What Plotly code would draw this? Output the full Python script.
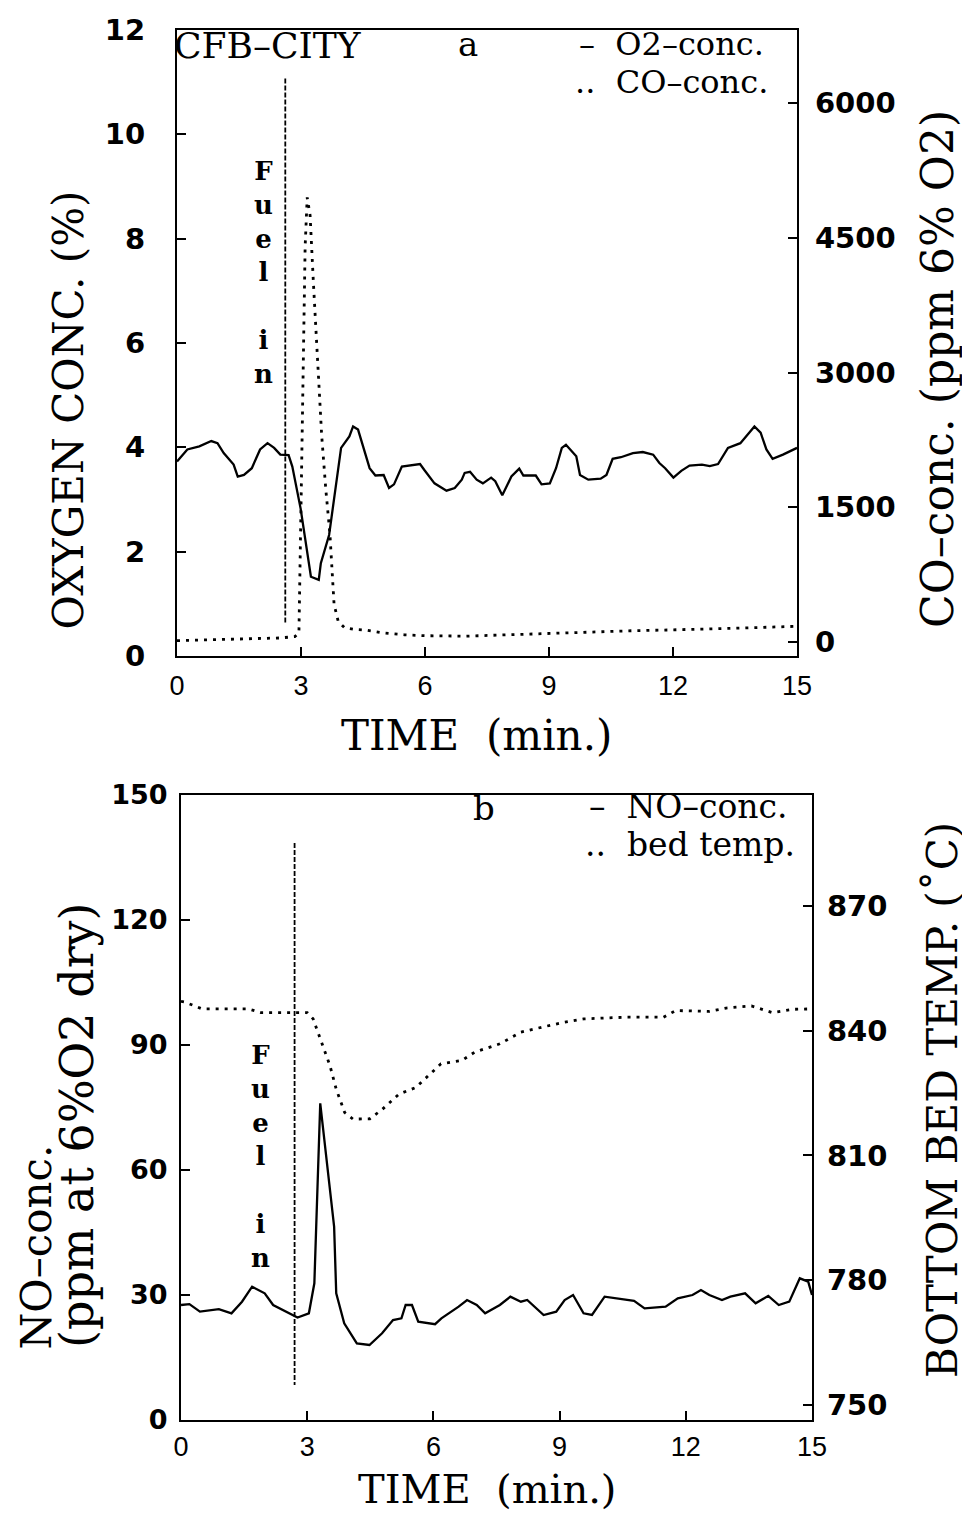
import plotly.graph_objects as go

W, H = 970, 1517          # target picture size
OX, OY = 8, 8             # page body margin of the browser
FW, FH = W - OX, H - OY   # figure size that fits in the window

# ---------------- data: panel a ----------------
o2_time = [0, 0.25, 0.54, 0.83, 0.98, 1.13, 1.37, 1.47, 1.62, 1.81, 2.01, 2.19, 2.35, 2.5, 2.7, 2.79,
           2.99, 3.24, 3.43, 3.48, 3.68, 3.97, 4.17, 4.26, 4.38, 4.66, 4.8, 5.0, 5.13, 5.25, 5.44, 5.88,
           5.98, 6.23, 6.52, 6.72, 6.89, 6.96, 7.09, 7.25, 7.4, 7.6, 7.7, 7.87, 8.09, 8.28, 8.38, 8.68,
           8.82, 9.02, 9.17, 9.31, 9.41, 9.66, 9.75, 9.95, 10.25, 10.39, 10.54, 10.74, 11.03, 11.27,
           11.52, 11.67, 11.81, 12.01, 12.2, 12.4, 12.7, 12.89, 13.09, 13.33, 13.63, 13.97, 14.12,
           14.26, 14.41, 14.66, 15.0]
o2_conc = [3.73, 3.96, 4.02, 4.12, 4.08, 3.89, 3.67, 3.44, 3.47, 3.60, 3.96, 4.08, 3.99, 3.86, 3.85, 3.63,
           2.83, 1.52, 1.46, 1.78, 2.32, 3.99, 4.21, 4.40, 4.34, 3.60, 3.46, 3.47, 3.22, 3.29, 3.63, 3.68,
           3.57, 3.31, 3.17, 3.22, 3.38, 3.51, 3.53, 3.38, 3.31, 3.42, 3.35, 3.08, 3.44, 3.59, 3.46, 3.46,
           3.29, 3.31, 3.60, 3.99, 4.05, 3.83, 3.47, 3.38, 3.40, 3.47, 3.78, 3.81, 3.89, 3.91,
           3.86, 3.70, 3.60, 3.42, 3.55, 3.65, 3.67, 3.64, 3.68, 3.99, 4.08, 4.40, 4.28,
           3.96, 3.78, 3.86, 3.99]

co_time = [0, 0.5, 1.0, 1.5, 2.0, 2.5, 2.85, 2.95, 3.0, 3.05, 3.1, 3.15, 3.22, 3.3, 3.4, 3.5, 3.6, 3.7,
           3.8, 3.9, 4.05, 4.3, 4.6, 5.0, 5.5, 6.0, 7.0, 8.0, 9.0, 10.0, 11.0, 12.0, 13.0, 14.0, 15.0]
co_conc = [15, 20, 25, 30, 35, 45, 60, 100, 1500, 3000, 4400, 4950, 4750, 4000, 3100, 2300, 1700, 1200,
           420, 230, 160, 140, 130, 100, 80, 70, 65, 80, 100, 115, 125, 135, 145, 160, 175]

fuel_a_time = [2.62, 2.62]
fuel_a_o2 = [11.07, 0.63]

# ---------------- data: panel b ----------------
no_time = [0, 0.2, 0.45, 0.9, 1.2, 1.45, 1.69, 1.99, 2.19, 2.49, 2.77, 3.04, 3.17, 3.31, 3.44, 3.64,
           3.69, 3.88, 4.18, 4.48, 4.78, 5.04, 5.24, 5.34, 5.49, 5.64, 6.04, 6.19, 6.6, 6.8, 7.03, 7.23,
           7.58, 7.83, 8.08, 8.23, 8.62, 8.92, 9.12, 9.32, 9.57, 9.77, 10.07, 10.32, 10.77, 11.02, 11.52,
           11.81, 12.16, 12.36, 12.56, 12.86, 13.06, 13.41, 13.66, 13.96, 14.21, 14.46, 14.71, 14.91, 15.0]
no_conc = [27.6, 27.8, 26, 26.6, 25.6, 28.4, 32, 30.4, 27.6, 26, 24.6, 25.6, 32.8, 76, 64.8, 46.4,
           30.4, 23.2, 18.4, 18, 20.8, 24, 24.4, 27.6, 27.6, 23.6, 23, 24.4, 27.2, 28.8, 27.6, 25.6,
           27.6, 29.6, 28.4, 28.8, 25.2, 26, 28.8, 30, 25.6, 25.2, 29.6, 29.2, 28.6, 26.8, 27.2,
           29.2, 30, 31.2, 30, 28.8, 29.6, 30.4, 28, 29.8, 27.6, 28.4, 34, 33.2, 30]

bed_time = [0, 0.1, 0.5, 1.6, 1.9, 2.6, 3.0, 3.14, 3.34, 3.54, 3.69, 3.89, 4.09, 4.49, 4.79, 5.18, 5.58,
            5.88, 6.18, 6.68, 6.98, 7.58, 8.08, 8.58, 9.07, 9.57, 10.57, 11.47, 11.76, 12.56, 12.96,
            13.56, 14.06, 14.56, 15.0]
bed_temp = [847, 846.8, 845.2, 845.2, 844.3, 844.3, 844.3, 842.8, 837.2, 831.6, 825.9, 820.3, 818.7,
            818.8, 821.1, 824.7, 826.3, 829.1, 832, 832.8, 834.8, 836.8, 839.6, 840.8, 841.9, 842.8,
            843.2, 843.2, 844.8, 844.6, 845.4, 845.9, 844.3, 845.1, 845.2]

fuel_b_time = [2.7, 2.7]
fuel_b_no = [138.5, 8.4]

time_ticks = [0, 3, 6, 9, 12, 15]
o2_ticks = [0, 2, 4, 6, 8, 10, 12]
co_ticks = [0, 1500, 3000, 4500, 6000]
no_ticks = [0, 30, 60, 90, 120, 150]
temp_ticks = [750, 780, 810, 840, 870]
temp_top_label = 900
fuel_text = "F<br>u<br>e<br>l<br> <br>i<br>n"


def px(x):
    return (x - OX) / FW


def py(y):
    return 1 - (y - OY) / FH


BLACK = "black"
SERIF = "DejaVu Serif"
TICKY = dict(family="DejaVu Sans", size=29, color=BLACK, weight="bold")
TICKY_B = dict(family="DejaVu Sans", size=27, color=BLACK, weight="bold")
TICKX = dict(family="Liberation Sans", size=27, color=BLACK)
DOT = "3px,6px"
DASH = "5px,2px"

fig = go.Figure()

# panel a
fig.add_trace(go.Scatter(x=o2_time, y=o2_conc, mode="lines", line=dict(color=BLACK, width=2.3),
                         xaxis="x", yaxis="y", showlegend=False))
fig.add_trace(go.Scatter(x=fuel_a_time, y=fuel_a_o2, mode="lines",
                         line=dict(color=BLACK, width=1.8, dash=DASH),
                         xaxis="x", yaxis="y", showlegend=False))
fig.add_trace(go.Scatter(x=co_time, y=co_conc, mode="lines", line=dict(color=BLACK, width=2.8, dash=DOT),
                         xaxis="x", yaxis="y2", showlegend=False))

# panel b
fig.add_trace(go.Scatter(x=no_time, y=no_conc, mode="lines", line=dict(color=BLACK, width=2.3),
                         xaxis="x2", yaxis="y3", showlegend=False))
fig.add_trace(go.Scatter(x=fuel_b_time, y=fuel_b_no, mode="lines",
                         line=dict(color=BLACK, width=1.8, dash=DASH),
                         xaxis="x2", yaxis="y3", showlegend=False))
fig.add_trace(go.Scatter(x=bed_time, y=bed_temp, mode="lines", line=dict(color=BLACK, width=2.8, dash=DOT),
                         xaxis="x2", yaxis="y4", showlegend=False))

axis_common = dict(showline=True, linecolor=BLACK, linewidth=2.2, ticks="inside", ticklen=9,
                   tickwidth=2, tickcolor=BLACK, showgrid=False, zeroline=False, automargin=False)

fig.update_layout(
    width=FW, height=FH,
    margin=dict(l=0, r=0, t=0, b=0),
    paper_bgcolor="white", plot_bgcolor="white",
    xaxis=dict(domain=[px(177), px(797)], anchor="y", range=[0, 15], tickvals=time_ticks,
               tickfont=TICKX, mirror=True, ticklabelstandoff=4, **axis_common),
    yaxis=dict(domain=[py(656), py(30)], anchor="x", range=[0, 12], tickvals=o2_ticks,
               tickfont=TICKY, ticklabelstandoff=24, **axis_common),
    yaxis2=dict(overlaying="y", anchor="x", side="right", range=[-156, 6813], tickvals=co_ticks,
                tickfont=TICKY, ticklabelstandoff=10, **axis_common),
    xaxis2=dict(domain=[px(181), px(812)], anchor="y3", range=[0, 15], tickvals=time_ticks,
                tickfont=TICKX, mirror=True, ticklabelstandoff=1, **axis_common),
    yaxis3=dict(domain=[py(1420), py(795)], anchor="x2", range=[0, 150], tickvals=no_ticks,
                tickfont=TICKY_B, ticklabelstandoff=6, **axis_common),
    yaxis4=dict(overlaying="y3", anchor="x2", side="right", range=[746.4, 896.6], tickvals=temp_ticks,
                tickfont=TICKY, ticklabelstandoff=7, **axis_common),
)


def ann(text, x, y, size, family=SERIF, xanchor="center", yanchor="middle", angle=0, weight="normal"):
    fig.add_annotation(text=text, x=px(x), y=py(y), xref="paper", yref="paper", showarrow=False,
                       xanchor=xanchor, yanchor=yanchor, textangle=angle,
                       font=dict(family=family, size=size, color=BLACK, weight=weight))


# top panel texts
ann("CFB\u2013CITY", 268, 46, 36)
ann("a", 468, 44, 34)
ann("\u2013  O2\u2013conc.", 766, 44, 32, xanchor="right")
ann("..  CO\u2013conc.", 770, 82, 32, xanchor="right")
ann(fuel_text, 263, 272, 26, weight="bold")
ann("OXYGEN CONC. (%)", 68, 632, 42, yanchor="bottom", angle=-90)
ann("CO\u2013conc. (ppm 6% O2)", 938, 630, 44, yanchor="bottom", angle=-90)
ann("TIME  (min.)", 476, 735, 42)

# bottom panel texts
ann("b", 484, 808, 34)
ann("\u2013  NO\u2013conc.", 789, 806, 33, xanchor="right")
ann("..  bed temp.", 797, 844, 33, xanchor="right")
ann(fuel_text, 260, 1156, 26, weight="bold")
ann("NO\u2013conc.", 36, 1352, 42, yanchor="bottom", angle=-90)
ann("(ppm at 6%O2 dry)", 77, 1350, 46, yanchor="bottom", angle=-90)
ann("BOTTOM BED TEMP. (\u02daC)", 942, 1380, 42, yanchor="bottom", angle=-90)
ann("TIME  (min.)", 487, 1489, 40)

# 900 label of the right axis sits just above the frame
fig.add_annotation(text=str(temp_top_label), x=px(812) + 7 / FW, y=temp_top_label, xref="paper", yref="y4",
                   showarrow=False, xanchor="left", yanchor="middle", font=TICKY)

fig.write_html("out.html")
